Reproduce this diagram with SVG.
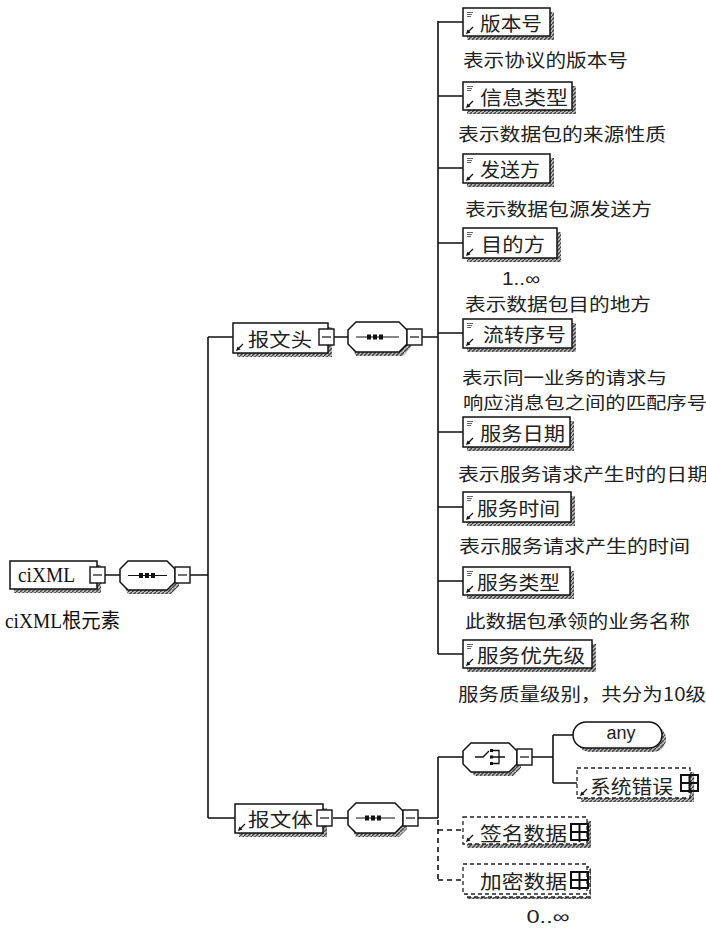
<svg xmlns="http://www.w3.org/2000/svg" width="706" height="928" viewBox="0 0 706 928">
<style>
.bx{fill:#fff;stroke:#111;stroke-width:1.5}
.dbx{fill:#fff;stroke:#222;stroke-width:1.3;stroke-dasharray:4 3}
.ln{fill:none;stroke:#111;stroke-width:1.6}
.dln{fill:none;stroke:#111;stroke-width:1.6;stroke-dasharray:5 4}
.zh{font-family:"Noto Sans CJK SC","Noto Sans",sans-serif;font-size:19px;fill:#222;dominant-baseline:central}
.ds{font-family:"Noto Sans CJK SC","Noto Sans",sans-serif;font-size:18px;fill:#222;dominant-baseline:central}
.ds2{font-family:"Noto Sans CJK SC","Noto Sans",sans-serif;font-size:17px;fill:#222;dominant-baseline:central}
.en{font-family:"Liberation Sans","Noto Sans",sans-serif;font-size:18px;fill:#222;dominant-baseline:central}
.sf{font-family:"Liberation Serif","Noto Sans CJK SC",serif;font-size:20px;fill:#111;dominant-baseline:central}
.ic{stroke:#666;stroke-width:1;fill:none}
</style>
<defs>
<pattern id="hatch" patternUnits="userSpaceOnUse" x="0" y="0" width="4" height="4">
<rect x="0" y="0" width="4" height="4" fill="#b8b8b8"/>
<path d="M-1,5 L5,-1" stroke="#444" stroke-width="1.4"/>
</pattern>
<g id="lines">
<path class="ic" d="M4,4.5 H10 M4,6.5 H9 M4,8.5 H8"/>
</g>
<g id="arr">
<path d="M10,-9 L5,-4" stroke="#111" stroke-width="1.2"/>
<path d="M3,-2 L7.5,-3.5 L4.5,-6.5 Z" fill="#111"/>
</g>
<g id="minus">
<rect x="0" y="0" width="15" height="16" fill="#fff" stroke="#111" stroke-width="1.4"/>
<path d="M3,8 H12" stroke="#111" stroke-width="1.2"/>
</g>
<g id="plus">
<rect x="0" y="0" width="17" height="16" fill="none" stroke="#111" stroke-width="2"/>
<path d="M8.5,-1 V18 M0,8 H17" stroke="#111" stroke-width="2"/>
</g>
</defs>
<rect width="706" height="928" fill="#fff"/>

<g id="shadows" fill="url(#hatch)" stroke="none">
<rect x="14" y="565" width="87" height="28"/>
<path d="M128,565 H171 L179,573 V586 L171,594 H128 L124,586 V573 Z"/>
<rect x="237" y="327" width="95" height="30"/>
<path d="M356,326 H403 L411,334 V347 L403,356 H356 L352,347 V334 Z"/>
<rect x="467" y="12" width="87" height="28"/>
<rect x="467" y="86" width="109" height="28"/>
<rect x="467" y="158" width="87" height="29"/>
<rect x="467" y="232" width="94" height="30"/>
<rect x="467" y="323" width="109" height="29"/>
<rect x="467" y="421" width="107" height="30"/>
<rect x="467" y="496" width="108" height="30"/>
<rect x="467" y="571" width="107" height="28"/>
<rect x="467" y="644" width="129" height="28"/>
<rect x="239" y="808" width="88" height="29"/>
<path d="M356,807 H399 L407,815 V829 L399,837 H356 L352,829 V815 Z"/>
<path d="M475,747 H513 L521,755 V768 L513,776 H475 L467,768 V755 Z"/>
<rect x="577" y="726" width="89" height="26" rx="13"/>
<rect x="581" y="772" width="113" height="30"/>
<rect x="467" y="821" width="124" height="27"/>
<rect x="467" y="868" width="124" height="31"/>
</g>

<g id="connectors">
<path class="ln" d="M105,575 H120 M190,575 H208 M208,337 V818 M208,337 H233 M208,818 H235"/>
<path class="ln" d="M334,337 H348 M422,337 H438 M438,21 V654"/>
<path class="ln" d="M438,22 H463 M438,96 H463 M438,168 H463 M438,243 H463 M438,333 H463 M438,432 H463 M438,507 H463 M438,581 H463 M438,654 H463"/>
<path class="ln" d="M333,818 H348 M418,818 H438 M438,757 V818 M438,757 H463 M532,757 H553 M553,735 V783 M553,735 H573 M553,783 H577"/>
<path class="dln" d="M438,820 V880 M438,830 H463 M438,880 H463"/>
</g>

<g id="ciXML">
<rect class="bx" x="10" y="561" width="87" height="28"/>
<text class="sf" x="18" y="575" textLength="57" lengthAdjust="spacingAndGlyphs">ciXML</text>
<use href="#minus" x="90" y="567"/>
<text class="sf" x="5" y="621" textLength="115" lengthAdjust="spacingAndGlyphs">ciXML根元素</text>
</g>

<g id="seq0">
<path class="bx" d="M128,561 H167 L175,569 V582 L167,590 H128 L120,582 V569 Z"/>
<path d="M128,575.5 H167" stroke="#111" stroke-width="1.2"/>
<rect x="139" y="573" width="4" height="5" fill="#111"/><rect x="145" y="573" width="4" height="5" fill="#111"/><rect x="151" y="573" width="4" height="5" fill="#111"/>
<use href="#minus" x="175" y="567"/>
</g>

<g id="baowentou">
<rect class="bx" x="233" y="323" width="95" height="30"/>
<use href="#arr" x="233" y="353"/>
<text class="zh" x="248" y="338" textLength="64" lengthAdjust="spacingAndGlyphs">报文头</text>
<use href="#minus" x="319" y="329"/>
</g>

<g id="seq1">
<path class="bx" d="M356,322 H399 L407,330 V344 L399,352 H356 L348,344 V330 Z"/>
<path d="M356,337 H399" stroke="#111" stroke-width="1.2"/>
<rect x="367" y="334.5" width="4" height="5" fill="#111"/><rect x="373" y="334.5" width="4" height="5" fill="#111"/><rect x="379" y="334.5" width="4" height="5" fill="#111"/>
<use href="#minus" x="407" y="329"/>
</g>

<g id="banbenhao">
<rect class="bx" x="463" y="8" width="87" height="28"/>
<use href="#lines" x="463" y="8"/><use href="#arr" x="463" y="36"/>
<text class="zh" x="480" y="22" textLength="62" lengthAdjust="spacingAndGlyphs">版本号</text>
<text class="ds" x="463" y="59" textLength="165" lengthAdjust="spacingAndGlyphs">表示协议的版本号</text>
</g>

<g id="xinxileixing">
<rect class="bx" x="463" y="82" width="109" height="28"/>
<use href="#lines" x="463" y="82"/><use href="#arr" x="463" y="110"/>
<text class="zh" x="480" y="96" textLength="88" lengthAdjust="spacingAndGlyphs">信息类型</text>
<text class="ds" x="458" y="133" textLength="208" lengthAdjust="spacingAndGlyphs">表示数据包的来源性质</text>
</g>

<g id="fasongfang">
<rect class="bx" x="463" y="154" width="87" height="29"/>
<use href="#lines" x="463" y="154"/><use href="#arr" x="463" y="183"/>
<text class="zh" x="480" y="168.5" textLength="60" lengthAdjust="spacingAndGlyphs">发送方</text>
<text class="ds" x="465" y="208" textLength="187" lengthAdjust="spacingAndGlyphs">表示数据包源发送方</text>
</g>

<g id="mudifang">
<rect class="bx" x="463" y="228" width="94" height="30"/>
<use href="#lines" x="463" y="228"/><use href="#arr" x="463" y="258"/>
<text class="zh" x="481" y="243" textLength="64" lengthAdjust="spacingAndGlyphs">目的方</text>
<text class="en" x="502" y="279" font-size="16" textLength="38" lengthAdjust="spacingAndGlyphs">1..∞</text>
<text class="ds" x="465" y="303" textLength="186" lengthAdjust="spacingAndGlyphs">表示数据包目的地方</text>
</g>

<g id="liuzhuanxuhao">
<rect class="bx" x="463" y="319" width="109" height="29"/>
<use href="#lines" x="463" y="319"/><use href="#arr" x="463" y="348"/>
<text class="zh" x="483" y="333.5" textLength="83" lengthAdjust="spacingAndGlyphs">流转序号</text>
<text class="ds2" x="462" y="376" textLength="205" lengthAdjust="spacingAndGlyphs">表示同一业务的请求与</text>
<text class="ds2" x="463" y="401" textLength="244" lengthAdjust="spacingAndGlyphs">响应消息包之间的匹配序号</text>
</g>

<g id="fuwuriqi">
<rect class="bx" x="463" y="417" width="107" height="30"/>
<use href="#lines" x="463" y="417"/><use href="#arr" x="463" y="447"/>
<text class="zh" x="480" y="432" textLength="85" lengthAdjust="spacingAndGlyphs">服务日期</text>
<text class="ds" x="458" y="473" textLength="250" lengthAdjust="spacingAndGlyphs">表示服务请求产生时的日期</text>
</g>

<g id="fuwushijian">
<rect class="bx" x="463" y="492" width="108" height="30"/>
<use href="#lines" x="463" y="492"/><use href="#arr" x="463" y="522"/>
<text class="zh" x="477" y="507" textLength="83" lengthAdjust="spacingAndGlyphs">服务时间</text>
<text class="ds" x="459" y="545" textLength="231" lengthAdjust="spacingAndGlyphs">表示服务请求产生的时间</text>
</g>

<g id="fuwuleixing">
<rect class="bx" x="463" y="567" width="107" height="28"/>
<use href="#lines" x="463" y="567"/><use href="#arr" x="463" y="595"/>
<text class="zh" x="477" y="581" textLength="83" lengthAdjust="spacingAndGlyphs">服务类型</text>
<text class="ds" x="465" y="620" textLength="225" lengthAdjust="spacingAndGlyphs">此数据包承领的业务名称</text>
</g>

<g id="fuwuyouxianji">
<rect class="bx" x="463" y="640" width="129" height="28"/>
<use href="#lines" x="463" y="640"/><use href="#arr" x="463" y="668"/>
<text class="zh" x="477" y="654" textLength="108" lengthAdjust="spacingAndGlyphs">服务优先级</text>
<text class="ds" x="458" y="693" textLength="248" lengthAdjust="spacingAndGlyphs">服务质量级别，共分为10级</text>
</g>

<g id="baowenti">
<rect class="bx" x="235" y="804" width="88" height="29"/>
<use href="#arr" x="235" y="833"/>
<text class="zh" x="248" y="818.5" textLength="65" lengthAdjust="spacingAndGlyphs">报文体</text>
<use href="#minus" x="317" y="810"/>
</g>

<g id="seq2">
<path class="bx" d="M356,803 H395 L403,811 V825 L395,833 H356 L348,825 V811 Z"/>
<path d="M356,818 H395" stroke="#111" stroke-width="1.2"/>
<rect x="365" y="815.5" width="4" height="5" fill="#111"/><rect x="371" y="815.5" width="4" height="5" fill="#111"/><rect x="377" y="815.5" width="4" height="5" fill="#111"/>
<use href="#minus" x="403" y="810"/>
</g>

<g id="choice">
<path class="bx" d="M471,743 H509 L517,751 V764 L509,772 H471 L463,764 V751 Z"/>
<path d="M475,757 H483 L489,751" stroke="#111" stroke-width="1.4" fill="none"/>
<rect x="490" y="749" width="3" height="3" fill="#111"/><rect x="490" y="755.5" width="3" height="3" fill="#111"/><rect x="490" y="762" width="3" height="3" fill="#111"/>
<path d="M493,750.5 H499 V763.5 H493 M493,757 H505" stroke="#111" stroke-width="1.3" fill="none"/>
<use href="#minus" x="517" y="749"/>
</g>

<g id="any">
<rect class="bx" x="573" y="722" width="89" height="26" rx="13"/>
<text class="en" x="621" y="733" text-anchor="middle" font-size="18">any</text>
</g>

<g id="xitongcuowu">
<rect class="dbx" x="577" y="768" width="113" height="30"/>
<use href="#arr" x="577" y="798"/>
<text class="zh" x="590" y="785" textLength="83" lengthAdjust="spacingAndGlyphs">系统错误</text>
<use href="#plus" x="681" y="775"/>
</g>

<g id="qianmingshuju">
<rect class="dbx" x="463" y="817" width="124" height="27"/>
<use href="#arr" x="463" y="844"/>
<text class="zh" x="480" y="832" textLength="87" lengthAdjust="spacingAndGlyphs">签名数据</text>
<use href="#plus" x="571" y="824"/>
</g>

<g id="jiamishuju">
<rect class="dbx" x="466" y="867" width="124" height="30"/>
<rect class="dbx" x="463" y="864" width="124" height="30"/>
<text class="zh" x="480" y="880" textLength="87" lengthAdjust="spacingAndGlyphs">加密数据</text>
<use href="#plus" x="571" y="872"/>
<text class="en" x="548" y="917" text-anchor="middle" font-size="20" textLength="43" lengthAdjust="spacingAndGlyphs">0..∞</text>
</g>
</svg>
